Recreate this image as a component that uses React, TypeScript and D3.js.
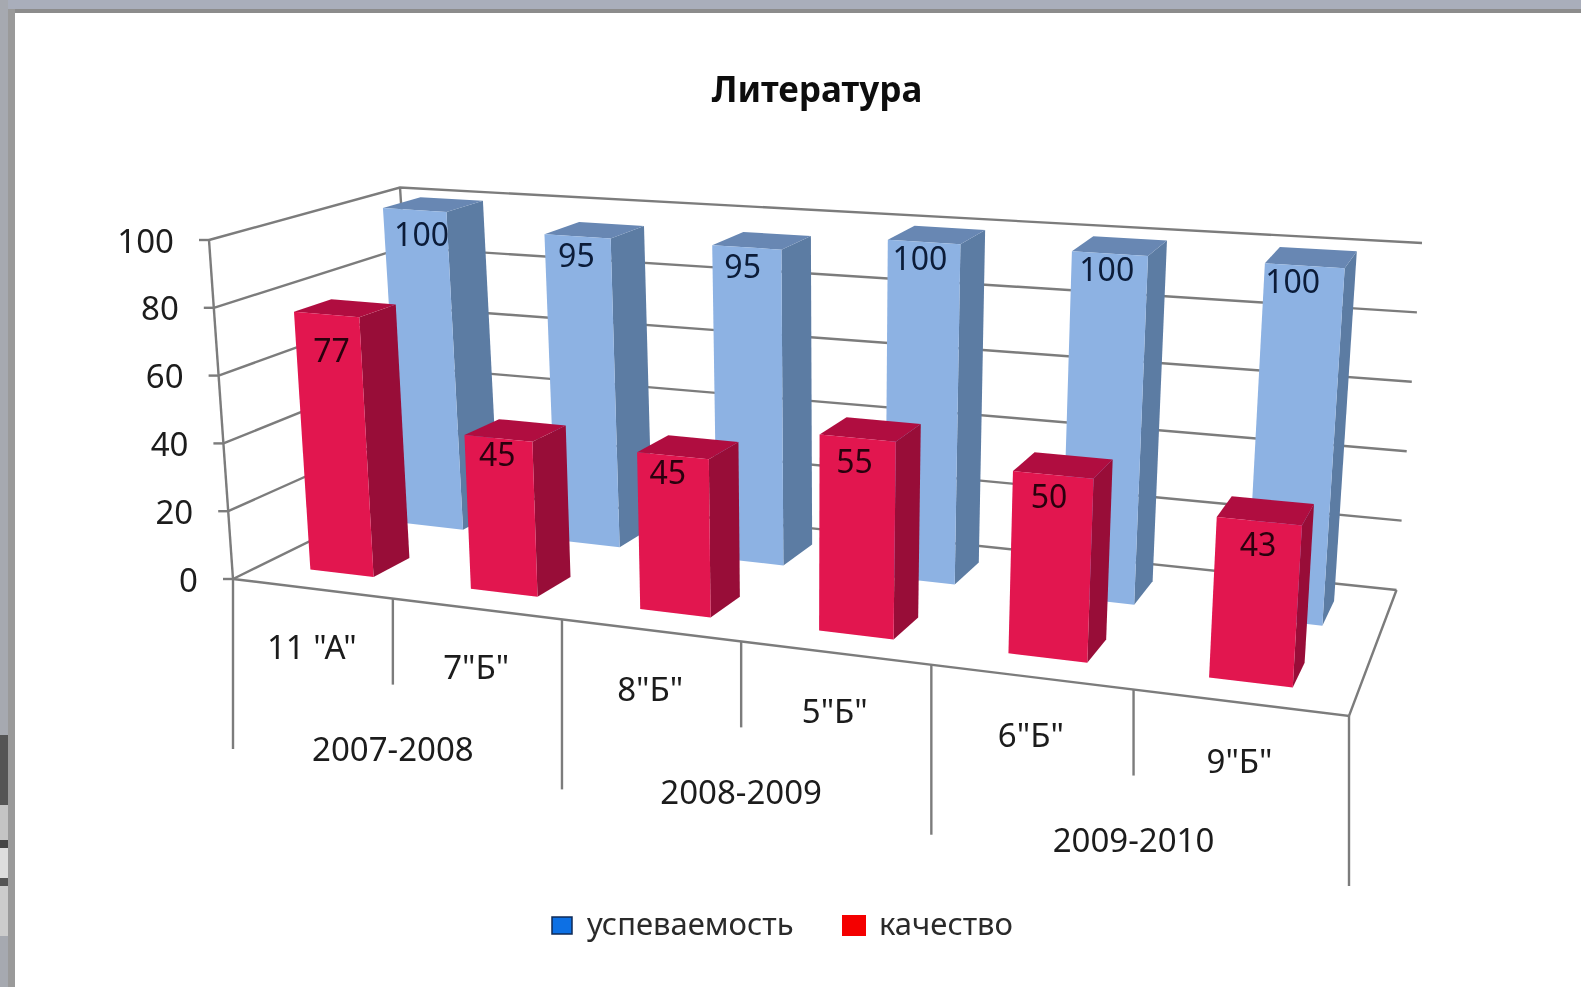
import React from "react";
import * as d3 from "d3";

const categories = ['11 "А"', '7"Б"', '8"Б"', '5"Б"', '6"Б"', '9"Б"'];
const yearLabels = ["2007-2008", "2008-2009", "2009-2010"];
const yearSpans = [2, 2, 2];
const progress = [100, 95, 95, 100, 100, 100];
const quality = [77, 45, 45, 55, 50, 43];
const yTicks = [0, 20, 40, 60, 80, 100];
const seriesNames = ["качество", "успеваемость"];

const width = 1581;
const height = 987;
const font = "'Noto Sans', sans-serif";
const gridColor = "#7c7c7c";

// where each data label sits relative to the top edge of its bar
const progressLabelDx = [7, -1, -4, -4, -3, -12];
const progressLabelDy = [23, 18, 18, 16, 15, 15];
const qualityLabelDx = [5, -1, -5, -3, -4, -1];
const qualityLabelDy = [35, 15, 16, 22, 21, 22];

// corners of the 3d box on screen: [front/back][left/right][floor/top]
const corners = {
    fl0: [233, 579],
    fl1: [209, 240],
    bl0: [420, 487],
    bl1: [400, 187.5],
    fr0: [1349, 716],
    fr1: [1373, 330],
    br0: [1396.5, 590],
    br1: [1422, 243],
};

const lerp = (a: number, b: number, t: number) => a + (b - a) * t;

// u = along categories, v = depth, w = height, all 0..1
const project = (u: number, v: number, w: number): [number, number] => {
    const c = lerp(-0.164, -0.11, v);
    const uw = (u * (1 + c)) / (1 + c * u);
    return [0, 1].map((k) => {
        const f = lerp(lerp(corners.fl0[k], corners.fr0[k], uw), lerp(corners.fl1[k], corners.fr1[k], uw), w);
        const b = lerp(lerp(corners.bl0[k], corners.br0[k], uw), lerp(corners.bl1[k], corners.br1[k], uw), w);
        return lerp(f, b, v);
    }) as [number, number];
};

const xBand = d3.scaleBand<string>().domain(categories).range([0, 1]).paddingInner(0.6).paddingOuter(0.3);
const xSlot = d3.scaleLinear().domain([0, categories.length]).range([0, 1]);
const depthBand = d3.scaleBand<string>().domain(seriesNames).range([0.015, 1.015]).paddingInner(0.6).paddingOuter(0.3);
const yScale = d3.scaleLinear().domain([0, 100]).range([0, 1]);

const line = d3.line();
const face = (pts: [number, number][]) => line(pts) + "Z";

const Bar = ({ cat, value, series, colors, labelDx, labelDy, labelColor }: any) => {
    const u0 = xBand(cat)!;
    const u1 = u0 + xBand.bandwidth();
    const v0 = depthBand(series)!;
    const v1 = v0 + depthBand.bandwidth();
    const w = yScale(value);
    const topMid = project((u0 + u1) / 2, v0, w);
    return (
        <g>
            <path d={face([project(u1, v0, 0), project(u1, v1, 0), project(u1, v1, w), project(u1, v0, w)])} fill={colors[1]} />
            <path d={face([project(u0, v0, w), project(u1, v0, w), project(u1, v1, w), project(u0, v1, w)])} fill={colors[2]} />
            <path d={face([project(u0, v0, 0), project(u1, v0, 0), project(u1, v0, w), project(u0, v0, w)])} fill={colors[0]} />
            <text x={topMid[0] + labelDx} y={topMid[1] + labelDy} textAnchor="middle" dominantBaseline="central" fontSize={32} fill={labelColor}>
                {value}
            </text>
        </g>
    );
};

const App = () => {
    let start = 0;
    const years = yearLabels.map((label, i) => {
        const from = start;
        start += yearSpans[i];
        return { label, from, to: start };
    });
    const longTicks = new Set<number>([0, ...years.map((d) => d.to)]);
    return (
        <svg width={width} height={height} style={{ position: "absolute", left: 0, top: 0, display: "block", background: "#fff" }} fontFamily={font}>
            <defs>
                <filter id="soft" x="-5%" y="-5%" width="110%" height="110%">
                    <feGaussianBlur stdDeviation="0.6" />
                </filter>
            </defs>

            {/* window frame around the pasted picture */}
            <rect x={0} y={0} width={width} height={9} fill="#a9aebb" />
            <rect x={0} y={9} width={width} height={4} fill="#8c8c8c" />
            <rect x={0} y={0} width={8} height={height} fill="#a6a9b0" />
            <rect x={8} y={9} width={7} height={height} fill="#9a9a9a" />
            <rect x={0} y={735} width={8} height={70} fill="#555" />
            <rect x={0} y={805} width={8} height={35} fill="#c4c4c4" />
            <rect x={0} y={840} width={8} height={8} fill="#444" />
            <rect x={0} y={848} width={8} height={30} fill="#ddd" />
            <rect x={0} y={878} width={8} height={8} fill="#555" />
            <rect x={0} y={886} width={8} height={50} fill="#ccc" />

            <g filter="url(#soft)">
                <text x={817} y={88} textAnchor="middle" dominantBaseline="central" fontSize={35} fontWeight="bold" fill="#111">
                    Литература
                </text>

                {/* walls and floor */}
                <g fill="none" stroke={gridColor} strokeWidth={2.4}>
                    {yTicks.map((t) => (
                        <path key={t} d={line([project(0, 0, yScale(t)), project(0, 1, yScale(t)), project(1, 1, yScale(t))])!} />
                    ))}
                    <path d={line([project(0, 0, 0), project(0, 0, 1)])!} />
                    <path d={line([project(0, 1, 0), project(0, 1, 1)])!} />
                    <path d={line([project(0, 0, 0), project(1, 0, 0), project(1, 1, 0)])!} />
                    {yTicks.map((t) => {
                        const p = project(0, 0, yScale(t));
                        return <path key={t} d={line([[p[0] - 10, p[1]], p])!} />;
                    })}
                    {d3.range(categories.length + 1).map((i) => {
                        const p = project(xSlot(i), 0, 0);
                        const len = longTicks.has(i) ? 170 : 86;
                        return <path key={i} d={line([p, [p[0], p[1] + len]])!} />;
                    })}
                </g>

                {yTicks.map((t) => {
                    const p = project(0, 0, yScale(t));
                    return (
                        <text key={t} x={p[0] - 35} y={p[1]} textAnchor="end" dominantBaseline="central" fontSize={33} fill="#1a1a1a">
                            {t}
                        </text>
                    );
                })}

                {categories.map((c, i) => {
                    const p = project(xSlot(i + 0.5), 0, 0);
                    return (
                        <text key={c} x={p[0]} y={p[1] + 58} textAnchor="middle" dominantBaseline="central" fontSize={33} fill="#1a1a1a">
                            {c}
                        </text>
                    );
                })}
                {years.map((d) => {
                    const p = project(xSlot((d.from + d.to) / 2), 0, 0);
                    return (
                        <text key={d.label} x={p[0]} y={p[1] + 150} textAnchor="middle" dominantBaseline="central" fontSize={33} fill="#1a1a1a">
                            {d.label}
                        </text>
                    );
                })}

                {/* back row first, then the red row in front of it */}
                {categories.map((c, i) => (
                    <Bar key={c} cat={c} value={progress[i]} series="успеваемость" colors={["#8db2e3", "#5b7ba3", "#6787b3"]} labelDx={progressLabelDx[i]} labelDy={progressLabelDy[i]} labelColor="#071a38" />
                ))}
                {categories.map((c, i) => (
                    <Bar key={c} cat={c} value={quality[i]} series="качество" colors={["#e2144f", "#980c37", "#b00f40"]} labelDx={qualityLabelDx[i]} labelDy={qualityLabelDy[i]} labelColor="#2a0410" />
                ))}

                {/* legend */}
                <rect x={552} y={917} width={20} height={17} fill="#0a70e4" stroke="#0c2a55" strokeWidth={1.5} />
                <text x={587} y={923} dominantBaseline="central" fontSize={31} fill="#2c2c2c">успеваемость</text>
                <rect x={842} y={915} width={24} height={21} fill="#f40000" />
                <text x={879} y={923} dominantBaseline="central" fontSize={31} fill="#2c2c2c">качество</text>
            </g>
        </svg>
    );
};

export default App;
